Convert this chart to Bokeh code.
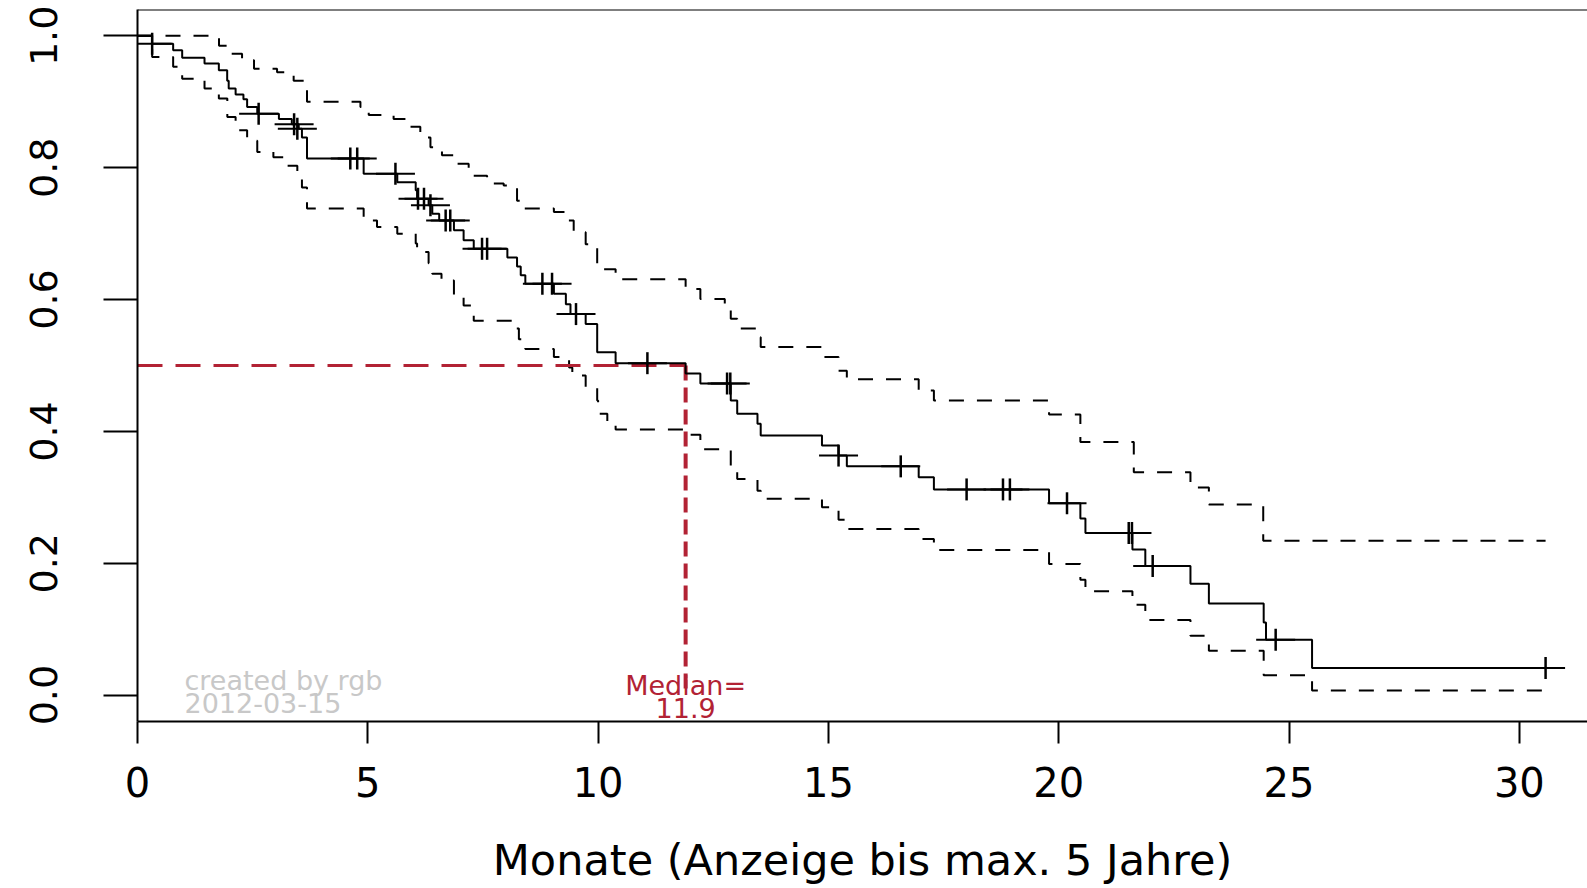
import math
from bokeh.plotting import figure
from bokeh.models import FixedTicker, NumeralTickFormatter, Span
from bokeh.core.properties import value
from bokeh.embed import file_html
from bokeh.resources import INLINE

# ---- data ----
main_t = [0, 0.318, 0.774, 0.97, 1.455, 1.766, 1.947, 1.98, 2.13, 2.30, 2.38, 2.60, 3.07, 3.35, 3.50,
          3.57, 3.68, 4.91, 5.64, 6.04, 6.07, 6.32, 6.40, 6.55, 6.87, 7.08, 7.30, 8.03, 8.24, 8.32,
          8.42, 9.04, 9.30, 9.40, 9.73, 9.98, 10.38, 11.90, 12.22, 12.88, 13.02, 13.46, 13.53, 14.86,
          15.22, 15.40, 16.96, 17.29, 19.79, 20.47, 20.58, 21.60, 21.88, 22.86, 23.26, 24.45, 24.50,
          25.50, 30.57]
main_s = [1.0, 0.988, 0.978, 0.967, 0.958, 0.948, 0.932, 0.920, 0.911, 0.904, 0.892, 0.882, 0.874, 0.866, 0.859,
          0.846, 0.814, 0.791, 0.778, 0.766, 0.753, 0.743, 0.730, 0.720, 0.705, 0.690, 0.677, 0.664, 0.650, 0.637,
          0.624, 0.609, 0.593, 0.578, 0.563, 0.520, 0.5035, 0.488, 0.4727, 0.447, 0.427, 0.4115, 0.394, 0.3786,
          0.3634, 0.347, 0.3305, 0.312, 0.291, 0.268, 0.246, 0.221, 0.196, 0.169, 0.139, 0.110, 0.084,
          0.041, 0.041]

upper_t = [0, 1.77, 1.95, 2.27, 2.53, 3.03, 3.39, 3.61, 3.68, 4.84, 5.02, 5.56, 5.89, 6.14, 6.36, 6.61,
           6.94, 7.19, 7.59, 7.95, 8.24, 8.39, 9.04, 9.29, 9.47, 9.73, 9.98, 10.38, 11.90, 12.22, 12.75,
           12.88, 13.02, 13.46, 13.53, 14.86, 15.22, 15.40, 16.96, 17.29, 19.79, 20.47, 21.63, 22.86,
           23.26, 24.44, 30.57]
upper_s = [1.0, 0.985, 0.973, 0.963, 0.950, 0.945, 0.932, 0.918, 0.900, 0.892, 0.880, 0.874, 0.862, 0.846, 0.831, 0.819,
           0.806, 0.788, 0.776, 0.773, 0.750, 0.738, 0.733, 0.720, 0.702, 0.684, 0.646, 0.631, 0.616, 0.601, 0.586,
           0.571, 0.556, 0.543, 0.528, 0.513, 0.492, 0.479, 0.462, 0.447, 0.4256, 0.384, 0.338, 0.315,
           0.289, 0.234, 0.234]

lower_t = [0, 0.318, 0.774, 0.97, 1.455, 1.766, 1.95, 2.13, 2.38, 2.60, 2.95, 3.18, 3.47, 3.57, 3.68,
           4.91, 5.20, 5.64, 6.04, 6.07, 6.32, 6.40, 6.60, 6.87, 7.08, 7.30, 8.17, 8.28, 8.42, 9.04,
           9.37, 9.44, 9.73, 9.98, 10.0, 10.2, 10.38, 11.90, 12.22, 12.88, 13.02, 13.46, 13.53, 14.86,
           15.22, 15.40, 16.96, 17.29, 19.79, 20.47, 20.58, 21.60, 21.88, 22.86, 23.26, 24.45, 25.50,
           30.57]
lower_s = [1.0, 0.968, 0.953, 0.935, 0.920, 0.905, 0.877, 0.857, 0.841, 0.824, 0.816, 0.803, 0.791, 0.770, 0.738,
           0.720, 0.710, 0.700, 0.685, 0.672, 0.655, 0.639, 0.629, 0.604, 0.591, 0.568, 0.556, 0.540, 0.525, 0.513,
           0.497, 0.485, 0.467, 0.447, 0.427, 0.414, 0.403, 0.395, 0.373, 0.345, 0.328, 0.310, 0.298, 0.285,
           0.266, 0.252, 0.237, 0.220, 0.199, 0.175, 0.1575, 0.137, 0.114, 0.090, 0.0675, 0.030, 0.007,
           0.007]

censor_t = [0.318, 2.63, 3.40, 3.47, 4.62, 4.77, 5.60, 6.09, 6.22, 6.36, 6.69, 6.79, 7.48, 7.59, 8.79, 9.0,
            9.52, 11.07, 12.80, 12.87, 15.22, 16.57, 18.0, 18.79, 18.94, 20.18, 21.52, 21.59, 22.04,
            24.71, 30.57]
censor_s = [0.988, 0.882, 0.866, 0.859, 0.814, 0.814, 0.791, 0.753, 0.753, 0.743, 0.720, 0.720, 0.677, 0.677, 0.624, 0.624,
            0.578, 0.5035, 0.4727, 0.4727, 0.3634, 0.347, 0.312, 0.312, 0.312, 0.291, 0.246, 0.246, 0.196,
            0.084, 0.041]

median_t = 11.9
median_s = 0.5

x_ticks = [0, 5, 10, 15, 20, 25, 30]
y_ticks = [0.0, 0.2, 0.4, 0.6, 0.8, 1.0]
x_title = "Monate (Anzeige bis max. 5 Jahre)"
credit_lines = ["created by rgb", "2012-03-15"]
median_lines = ["Median=", "11.9"]

FONT = "DejaVu Sans"
RED = "#b22234"

p = figure(width=1587, height=888, output_backend="svg", toolbar_location=None,
           x_range=(0, 31.48), y_range=(-0.04, 1.04),
           min_border_left=137, min_border_right=0, min_border_top=9, min_border_bottom=167)
p.outline_line_color = None
p.xgrid.visible = False
p.ygrid.visible = False
p.background_fill_color = "white"
p.border_fill_color = "white"

# axes
p.xaxis.ticker = FixedTicker(ticks=x_ticks)
p.yaxis.ticker = FixedTicker(ticks=y_ticks)
p.yaxis.formatter = NumeralTickFormatter(format="0.0")
for ax in (p.xaxis, p.yaxis):
    ax.axis_line_width = 2
    ax.axis_line_color = "black"
    ax.major_tick_line_width = 2
    ax.major_tick_line_color = "black"
    ax.minor_tick_line_color = None
    ax.major_tick_in = 0
    ax.major_label_text_font = FONT
    ax.major_label_text_color = "black"
p.xaxis.major_tick_out = 22
p.yaxis.major_tick_out = 34
p.xaxis.major_label_text_font_size = "40px"
p.yaxis.major_label_text_font_size = "38px"
p.xaxis.major_label_standoff = 23
p.yaxis.major_label_standoff = 46
p.yaxis.major_label_orientation = "vertical"

p.xaxis.axis_label = x_title
p.xaxis.axis_label_text_font = FONT
p.xaxis.axis_label_text_font_size = "43px"
p.xaxis.axis_label_text_font_style = "normal"
p.xaxis.axis_label_text_color = "black"
p.xaxis.axis_label_standoff = 35

# top border of the box
p.add_layout(Span(location=1.04, dimension="width", line_color="black", line_width=2))

# confidence bands
p.step(upper_t, upper_s, mode="after", line_color="black", line_width=2, line_dash="15 13")
p.step(lower_t, lower_s, mode="after", line_color="black", line_width=2, line_dash="15 13")

# median lines
p.line([0, median_t], [median_s, median_s], line_color=RED, line_width=3, line_dash="25 13")
p.line([median_t, median_t], [median_s, 0], line_color=RED, line_width=4, line_dash="15 7")

# survival curve
p.step(main_t, main_s, mode="after", line_color="black", line_width=2)

# censoring marks
p.scatter(censor_t, censor_s, marker="dash", size=39, line_color="black", line_width=2)
p.scatter(censor_t, censor_s, marker="dash", size=22, angle=math.pi / 2, line_color="black", line_width=2.5)

# annotations
p.text(x=[1.02, 1.02], y=[0.022, -0.012], text=credit_lines, text_font=value(FONT),
       text_font_size="27px", text_color="#c8c8c8", text_align="left", text_baseline="middle")
p.text(x=[median_t, median_t], y=[0.015, -0.019], text=median_lines, text_font=value(FONT),
       text_font_size="27px", text_color=RED, text_align="center", text_baseline="middle")

open("out.html", "w").write(file_html(p, INLINE))
